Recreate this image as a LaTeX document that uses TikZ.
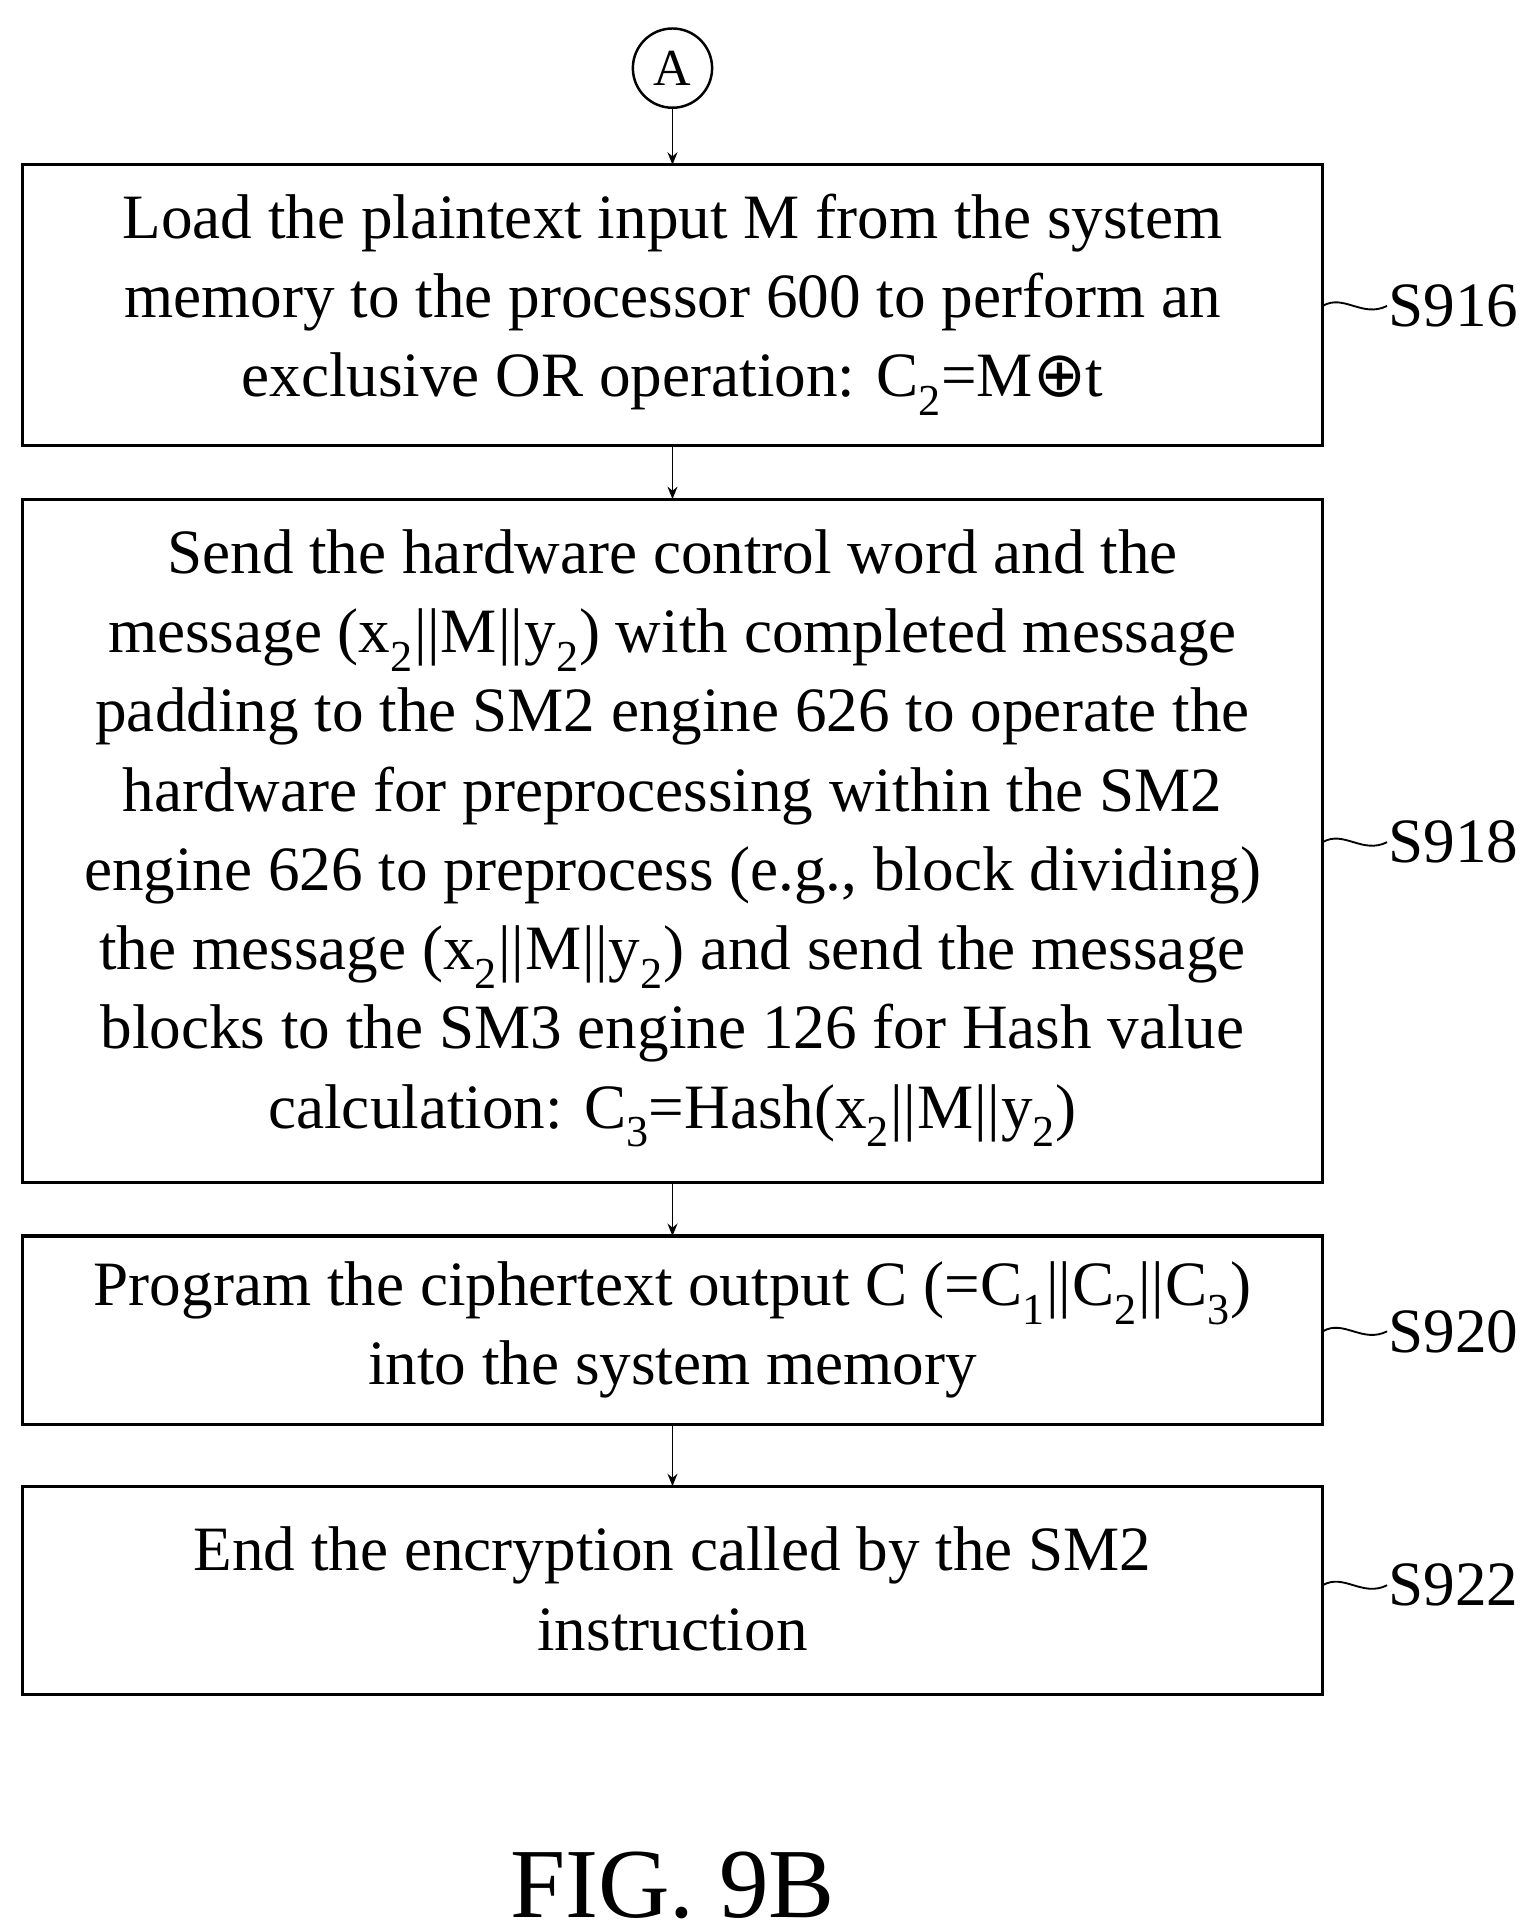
\documentclass[tikz,border=0pt]{standalone}
\usepackage{fontspec}
\setmainfont{Liberation Serif}
\newfontfamily\dvs{DejaVu Sans}
\usetikzlibrary{arrows.meta}
\newcommand{\sbs}[1]{\textsubscript{#1}}
\newcommand{\dbar}{\kern1pt||\kern1pt}
\begin{document}
\begin{tikzpicture}[x=1pt,y=-1pt,
  box/.style={draw,line width=2.5pt,rectangle,inner sep=0pt},
  txt/.style={align=center,font=\fontsize{51}{64}\selectfont},
  lab/.style={anchor=west,font=\fontsize{51}{56}\selectfont},
  arr/.style={-{Stealth[length=10pt,width=8pt]},line width=1.5pt},
  tl/.style={line width=1.5pt}]
\useasboundingbox (0,0) rectangle (1240,1560);
\node[circle,draw,line width=2pt,minimum size=64pt,font=\fontsize{42}{44}\selectfont] (A) at (543,55) {A};
\draw[box] (18,133) rectangle (1068,360);
\node[txt] (t1) at (543,246) {Load the plaintext input M from the system\\memory to the processor 600 to perform an\\exclusive OR operation: C\sbs{2}=M{\dvs ⊕}t};
\draw[box] (18,403) rectangle (1068,955);
\node[txt] (t2) at (543,677) {Send the hardware control word and the\\message (x\sbs{2}\dbar M\dbar y\sbs{2}) with completed message\\padding to the SM2 engine 626 to operate the\\hardware for preprocessing within the SM2\\engine 626 to preprocess (e.g., block dividing)\\the message (x\sbs{2}\dbar M\dbar y\sbs{2}) and send the message\\blocks to the SM3 engine 126 for Hash value\\calculation: C\sbs{3}=Hash(x\sbs{2}\dbar M\dbar y\sbs{2})};
\draw[box] (18,998) rectangle (1068,1150);
\node[txt] (t3) at (543,1074) {Program the ciphertext output C (=C\sbs{1}\dbar C\sbs{2}\dbar C\sbs{3})\\into the system memory};
\draw[box] (18,1200) rectangle (1068,1368);
\node[txt] (t4) at (543,1283) {End the encryption called by the SM2\\instruction};
\coordinate (a1) at (543,133); \coordinate (a2) at (543,403);
\coordinate (a3) at (543,998); \coordinate (a4) at (543,1200);
\coordinate (e1) at (543,360); \coordinate (e2) at (543,955); \coordinate (e3) at (543,1150);
\draw[arr] (A.south) -- (a1);
\draw[arr] (e1) -- (a2);
\draw[arr] (e2) -- (a3);
\draw[arr] (e3) -- (a4);
\foreach \y/\s in {247/S916,680/S918,1075/S920,1280/S922}{
  \node[lab,inner sep=1pt] (L\s) at (1120,\y) {\s};
  \draw[tl] (1068,\y) .. controls (1085,\y-10) and (1100,\y+10) .. (L\s.west);
}
\node[font=\fontsize{80}{86}\selectfont] (fig) at (543,1522) {FIG. 9B};
\end{tikzpicture}
\end{document}
